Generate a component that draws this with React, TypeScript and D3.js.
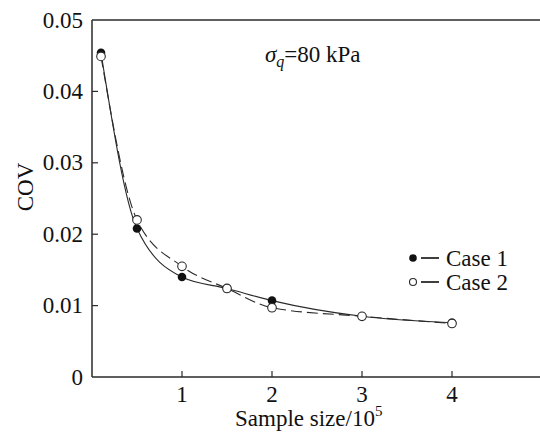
import React from "react";
import * as d3 from "d3";

const sampleSizes = [0.1, 0.5, 1, 1.5, 2, 3, 4];
const case1 = [0.0454, 0.0208, 0.014, 0.0124, 0.0107, 0.0085, 0.0076];
const case2 = [0.0449, 0.022, 0.0155, 0.0124, 0.0097, 0.0085, 0.0075];
const xTicks = [1, 2, 3, 4];
const yTicks = [0, 0.01, 0.02, 0.03, 0.04, 0.05];
const yTickLabels = ["0", "0.01", "0.02", "0.03", "0.04", "0.05"];
const seriesNames = ["Case 1", "Case 2"];

const W = 540;
const H = 434;
const margin = { left: 92, top: 20, bottom: 57 };
const FONT = "Liberation Serif";
const INK = "#2a2a2a";
const TXT = "#111";
const FS = 23;
const ts = { fontFamily: FONT };

export default function App() {
  const x = d3.scaleLinear().domain([0, 5]).range([margin.left, margin.left + 450]);
  const y = d3.scaleLinear().domain([0, 0.05]).range([H - margin.bottom, margin.top]);
  const line = d3
    .line<[number, number]>()
    .x((d) => x(d[0]))
    .y((d) => y(d[1]))
    .curve(d3.curveMonotoneX);
  const d1 = line(sampleSizes.map((s, i) => [s, case1[i]] as [number, number])) || "";
  const d2 = line(sampleSizes.map((s, i) => [s, case2[i]] as [number, number])) || "";
  const y0 = y(0);
  const yTop = y(0.05);
  const x0 = x(0);

  return (
    <svg
      width={W}
      height={H}
      style={{ position: "absolute", left: 0, top: 0, background: "#fff" }}
    >
      {/* axes frame */}
      <line x1={x0} x2={W} y1={y0} y2={y0} stroke={INK} strokeWidth={1.5} />
      <line x1={x0} x2={W} y1={yTop} y2={yTop} stroke={INK} strokeWidth={1.5} />
      <line x1={x0} x2={x0} y1={yTop} y2={y0} stroke={INK} strokeWidth={1.5} />

      {/* y ticks */}
      {yTicks.map((t, i) => (
        <g key={"y" + i}>
          {i > 0 && i < yTicks.length - 1 && (
            <line x1={x0} x2={x0 + 6} y1={y(t)} y2={y(t)} stroke={INK} strokeWidth={1.2} />
          )}
          <text
            x={x0 - 9}
            y={y(t)}
            dy="0.33em"
            textAnchor="end"
            fontSize={FS}
            fill={TXT}
            style={ts}
          >
            {yTickLabels[i]}
          </text>
        </g>
      ))}

      {/* x ticks */}
      {xTicks.map((t) => (
        <g key={"x" + t}>
          <line x1={x(t)} x2={x(t)} y1={y0} y2={y0 - 6} stroke={INK} strokeWidth={1.2} />
          <text x={x(t)} y={y0 + 25} textAnchor="middle" fontSize={FS} fill={TXT} style={ts}>
            {t}
          </text>
        </g>
      ))}

      {/* axis titles */}
      <text x={235} y={426} fontSize={FS} fill={TXT} style={ts}>
        Sample size/10
        <tspan dy={-10} fontSize={15}>5</tspan>
      </text>
      <text
        transform={`translate(33, 187) rotate(-90)`}
        textAnchor="middle"
        fontSize={FS}
        fill={TXT}
        style={ts}
      >
        COV
      </text>

      {/* annotation */}
      <text x={265} y={62} fontSize={FS} fill={TXT} style={ts}>
        <tspan fontStyle="italic">σ</tspan>
        <tspan fontStyle="italic" fontSize={16} dy={5}>q</tspan>
        <tspan dy={-5}>=80 kPa</tspan>
      </text>

      {/* curves */}
      <path d={d1} fill="none" stroke={INK} strokeWidth={1.1} />
      <path d={d2} fill="none" stroke={INK} strokeWidth={1.1} strokeDasharray="11,5" />

      {/* markers */}
      {sampleSizes.map((s, i) => (
        <circle key={"c1" + i} cx={x(s)} cy={y(case1[i])} r={4.3} fill="#111" />
      ))}
      {sampleSizes.map((s, i) => (
        <circle
          key={"c2" + i}
          cx={x(s)}
          cy={y(case2[i])}
          r={4.3}
          fill="#fff"
          stroke={INK}
          strokeWidth={1.1}
        />
      ))}

      {/* legend */}
      <g>
        <circle cx={413} cy={258} r={3.8} fill="#111" />
        <line x1={421} x2={439} y1={258} y2={258} stroke={INK} strokeWidth={1.8} />
        <text x={446} y={266} fontSize={FS} fill={TXT} style={ts}>{seriesNames[0]}</text>
        <circle cx={413} cy={282} r={3.5} fill="#fff" stroke={INK} strokeWidth={1.1} />
        <line x1={421} x2={439} y1={282} y2={282} stroke={INK} strokeWidth={1.8} />
        <text x={446} y={290} fontSize={FS} fill={TXT} style={ts}>{seriesNames[1]}</text>
      </g>
    </svg>
  );
}
